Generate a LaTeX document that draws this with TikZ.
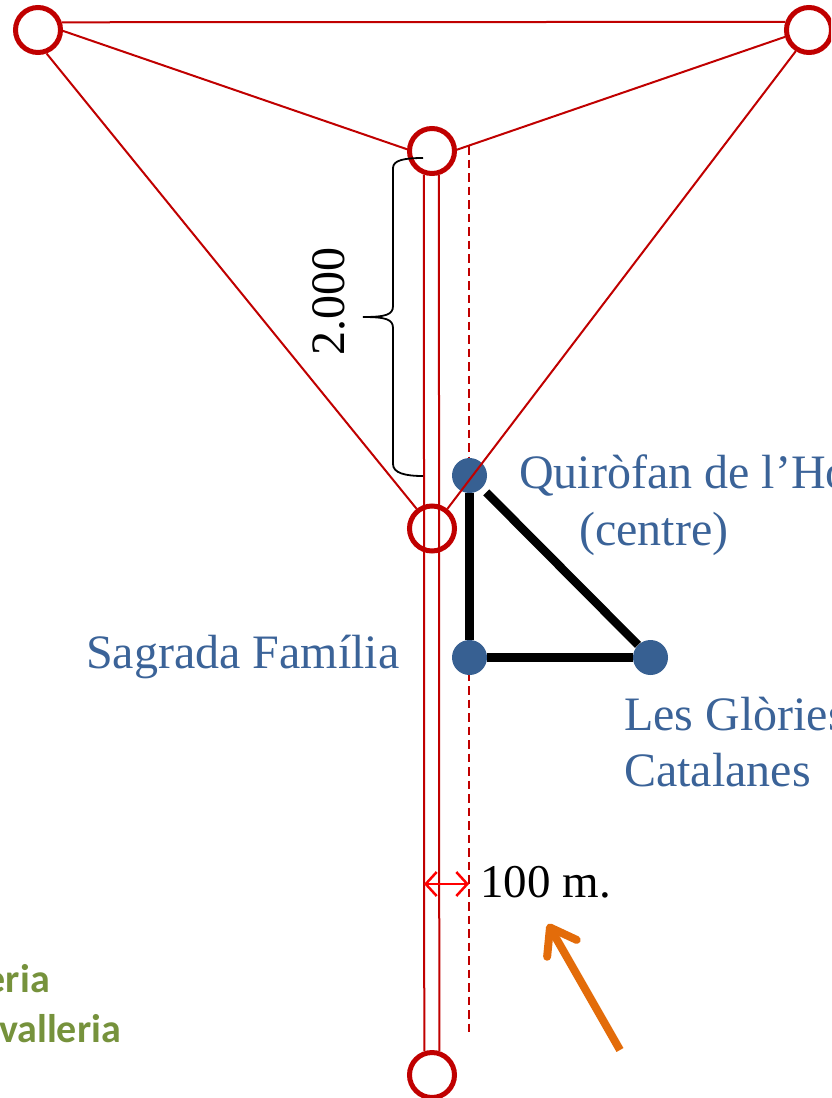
\documentclass[tikz,border=0pt]{standalone}
\usepackage{fontspec}
\setmainfont{Liberation Serif}
\newfontfamily\greenfont{Carlito}
\usetikzlibrary{arrows.meta}
\definecolor{hubred}{HTML}{C00000}
\definecolor{dotblue}{HTML}{376092}
\definecolor{labelblue}{HTML}{3B6398}
\definecolor{labelgreen}{HTML}{76923C}
\definecolor{arroworange}{HTML}{E36C0A}
\tikzset{
  hub/.style={circle,draw=hubred,line width=5pt,minimum size=45pt,inner sep=0pt},
  spoke/.style={draw=hubred,line width=2pt},
  dotnode/.style={circle,fill=dotblue,minimum size=35pt,inner sep=0pt},
  thick side/.style={draw=black,line width=8.5pt},
  serif label/.style={anchor=base west,inner sep=0pt,font=\fontsize{48}{48}\selectfont},
  blue label/.style={serif label,text=labelblue},
  green label/.style={anchor=base east,inner sep=0pt,text=labelgreen,font=\fontsize{40}{40}\selectfont\greenfont\bfseries},
}
\begin{document}
\begin{tikzpicture}[x=1pt,y=-1pt]
\useasboundingbox (0,0) rectangle (831,1098);
\clip (0,0) rectangle (831,1098);
% dashed line
\coordinate (dashtop) at (469,146);
\coordinate (dashbot) at (469,1036);
\draw[draw=hubred,line width=2pt,dash pattern=on 8.5pt off 5pt] (dashtop) -- (dashbot);
% dots and triangle
\node[dotnode] (qui) at (469.5,475.5) {};
\node[dotnode] (sag) at (469.5,657.5) {};
\node[dotnode] (glo) at (650.5,657.5) {};
\draw[thick side,shorten <=6pt] (qui) -- (glo);
\draw[thick side] (qui) -- (sag);
\draw[thick side] (sag) -- (glo);
% hubs
\node[hub] (nw) at (38,30) {};
\node[hub] (ne) at (809,30) {};
\node[hub] (top) at (432,151) {};
\node[hub] (mid) at (432,528.5) {};
\node[hub] (bot) at (432,1075) {};
\draw[spoke] (nw.18.66) -- (ne.161.34);
\draw[spoke] (nw.-2) -- (top.176);
\draw[spoke] (ne.-164) -- (top.3);
\draw[spoke] (nw.-70) -- (mid.128);
\draw[spoke] (ne.-122) -- (mid.52);
\draw[spoke] (top.251.34) -- (bot.108.66);
\draw[spoke] (top.286.26) -- (bot.73.74);
% brace
\coordinate (bracetop) at (423,158);
\coordinate (bracetip) at (363,317);
\coordinate (bracebot) at (423,476);
\draw[black,line width=1.8pt]
  (bracetop) .. controls (405,158) and (393,160) .. (393,168)
  -- (393,306) .. controls (393,315) and (385,317) .. (bracetip)
  .. controls (385,317) and (393,319) .. (393,328)
  -- (393,464) .. controls (393,473) and (405,476) .. (bracebot);
\node[rotate=90,anchor=base,inner sep=0pt,font=\fontsize{48}{48}\selectfont] (dist) at (344,301) {2.000};
% width arrow
\coordinate (wleft) at (424,884);
\coordinate (wright) at (469,884);
\draw[draw=red,line width=2.5pt,{Straight Barb[length=11pt,width=24pt]}-{Straight Barb[length=11pt,width=24pt]}] (wleft) -- (wright);
\node[serif label,font=\fontsize{47}{47}\selectfont] (wlabel) at (480,897) {100 m.};
% orange arrow
\coordinate (otail) at (620,1050);
\coordinate (otip) at (548,924);
\draw[draw=arroworange,line width=8pt,-{Straight Barb[round,length=24pt,width=34pt]}] (otail) -- (otip);
% labels
\node[blue label] (l1) at (519,488) {Quiròfan de l’Ho};
\node[blue label] (l2) at (579,545) {(centre)};
\node[blue label] (l3) at (86,668) {Sagrada Família};
\node[blue label] (l4) at (624,730) {Les Glòries};
\node[blue label] (l5) at (624,786) {Catalanes};
\node[green label] (g1) at (50,992) {eria};
\node[green label] (g2) at (121,1042) {valleria};
\end{tikzpicture}
\end{document}
